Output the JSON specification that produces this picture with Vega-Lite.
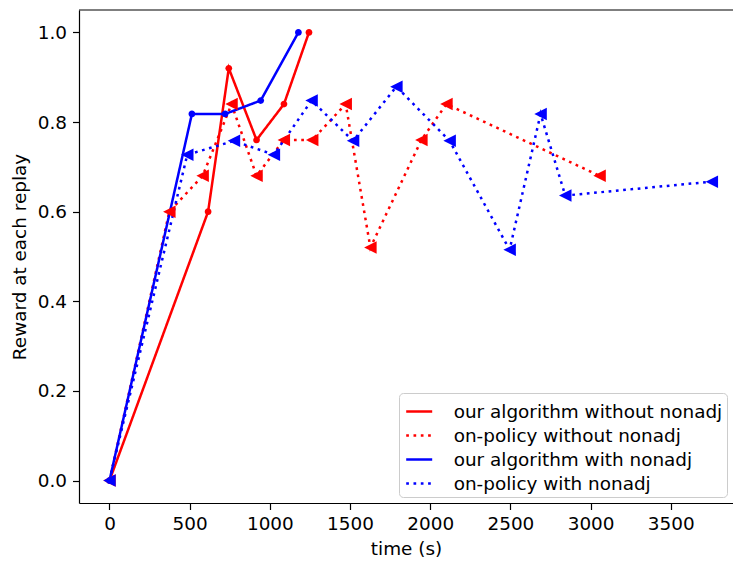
{
  "$schema": "https://vega.github.io/schema/vega-lite/v6.json",
  "width": 654,
  "height": 493,
  "autosize": {"type": "none"},
  "padding": {"left": 79, "top": 10, "right": 0, "bottom": 60},
  "background": "white",
  "config": {
    "view": {"stroke": null},
    "font": "DejaVu Sans",
    "axis": {
      "grid": false, "domain": true, "domainColor": "#000000", "domainWidth": 1.2,
      "tickColor": "#000000", "tickWidth": 1.2, "tickSize": 6.5,
      "labelFont": "DejaVu Sans", "labelFontSize": 18.4, "labelColor": "#000000",
      "titleFont": "DejaVu Sans", "titleFontSize": 18.4, "titleFontWeight": "normal", "titleColor": "#000000",
      "labelFlush": false, "labelOverlap": false
    }
  },
  "datasets": {
    "rows": [
      {"series": "our algorithm without nonadj", "t": 0, "reward": 0},
      {"series": "our algorithm without nonadj", "t": 615, "reward": 0.6},
      {"series": "our algorithm without nonadj", "t": 744, "reward": 0.92},
      {"series": "our algorithm without nonadj", "t": 917, "reward": 0.76},
      {"series": "our algorithm without nonadj", "t": 1088, "reward": 0.84},
      {"series": "our algorithm without nonadj", "t": 1244, "reward": 1.0},
      {"series": "on-policy without nonadj", "t": 0, "reward": 0},
      {"series": "on-policy without nonadj", "t": 373, "reward": 0.6},
      {"series": "on-policy without nonadj", "t": 581, "reward": 0.68},
      {"series": "on-policy without nonadj", "t": 761, "reward": 0.84},
      {"series": "on-policy without nonadj", "t": 917, "reward": 0.68},
      {"series": "on-policy without nonadj", "t": 1087, "reward": 0.76},
      {"series": "on-policy without nonadj", "t": 1264, "reward": 0.76},
      {"series": "on-policy without nonadj", "t": 1473, "reward": 0.84},
      {"series": "on-policy without nonadj", "t": 1627, "reward": 0.52},
      {"series": "on-policy without nonadj", "t": 1945, "reward": 0.76},
      {"series": "on-policy without nonadj", "t": 2101, "reward": 0.84},
      {"series": "on-policy without nonadj", "t": 3056, "reward": 0.68},
      {"series": "our algorithm with nonadj", "t": 0, "reward": 0},
      {"series": "our algorithm with nonadj", "t": 514, "reward": 0.818},
      {"series": "our algorithm with nonadj", "t": 721, "reward": 0.818},
      {"series": "our algorithm with nonadj", "t": 943, "reward": 0.848},
      {"series": "our algorithm with nonadj", "t": 1178, "reward": 1.0},
      {"series": "on-policy with nonadj", "t": 0, "reward": 0},
      {"series": "on-policy with nonadj", "t": 485, "reward": 0.727},
      {"series": "on-policy with nonadj", "t": 776, "reward": 0.758},
      {"series": "on-policy with nonadj", "t": 1025, "reward": 0.727},
      {"series": "on-policy with nonadj", "t": 1260, "reward": 0.848},
      {"series": "on-policy with nonadj", "t": 1519, "reward": 0.758},
      {"series": "on-policy with nonadj", "t": 1789, "reward": 0.879},
      {"series": "on-policy with nonadj", "t": 2121, "reward": 0.758},
      {"series": "on-policy with nonadj", "t": 2495, "reward": 0.515},
      {"series": "on-policy with nonadj", "t": 2688, "reward": 0.818},
      {"series": "on-policy with nonadj", "t": 2842, "reward": 0.636},
      {"series": "on-policy with nonadj", "t": 3756, "reward": 0.667}
    ]
  },
  "layer": [
    {
      "data": {"name": "rows"},
      "mark": {"type": "line", "strokeWidth": 2.5, "clip": true},
      "encoding": {
        "x": {
          "field": "t", "type": "quantitative",
          "scale": {"domain": [-190, 3888], "nice": false, "zero": false},
          "axis": {"values": [0, 500, 1000, 1500, 2000, 2500, 3000, 3500], "format": "d", "title": "time (s)", "labelPadding": 5, "titlePadding": 7}
        },
        "y": {
          "field": "reward", "type": "quantitative",
          "scale": {"domain": [-0.05, 1.05], "nice": false, "zero": false},
          "axis": {"values": [0, 0.2, 0.4, 0.6, 0.8, 1.0], "format": ".1f", "title": "Reward at each replay", "labelPadding": 6, "titlePadding": 7.4}
        },
        "stroke": {
          "field": "series", "type": "nominal",
          "scale": {"domain": ["our algorithm without nonadj", "on-policy without nonadj", "our algorithm with nonadj", "on-policy with nonadj"], "range": ["#ff0000", "#ff0000", "#0000ff", "#0000ff"]},
          "legend": {
            "title": null,
            "orient": "bottom-right",
            "offset": 6,
            "direction": "vertical",
            "padding": 4,
            "fillColor": "rgba(255,255,255,0.8)",
            "strokeColor": "#cccccc",
            "cornerRadius": 4,
            "symbolType": "stroke",
            "symbolSize": 676,
            "symbolStrokeWidth": 2.5,
            "symbolOffset": 1.7,
            "labelOffset": 20,
            "rowPadding": -1.5,
            "labelFont": "DejaVu Sans",
            "labelFontSize": 18.4,
            "labelColor": "#000000",
            "labelLimit": 500
          }
        },
        "strokeDash": {
          "field": "series", "type": "nominal",
          "scale": {"domain": ["our algorithm without nonadj", "on-policy without nonadj", "our algorithm with nonadj", "on-policy with nonadj"], "range": [[1, 0], [2.7, 4.6], [1, 0], [2.7, 4.6]]}
        }
      }
    },
    {
      "data": {"name": "rows"},
      "mark": {"type": "point", "filled": true, "opacity": 1, "size": 156, "clip": true},
      "encoding": {
        "x": {"field": "t", "type": "quantitative"},
        "y": {"field": "reward", "type": "quantitative"},
        "fill": {
          "field": "series", "type": "nominal",
          "scale": {"domain": ["on-policy with nonadj", "our algorithm with nonadj", "on-policy without nonadj", "our algorithm without nonadj"], "range": ["#0000ff", "#0000ff", "#ff0000", "#ff0000"]},
          "legend": null
        },
        "shape": {
          "field": "series", "type": "nominal",
          "scale": {"domain": ["on-policy with nonadj", "our algorithm with nonadj", "on-policy without nonadj", "our algorithm without nonadj"], "range": ["M-1,0L1,-1L1,1Z", "M-0.54,0A0.54,0.54,0,1,0,0.54,0A0.54,0.54,0,1,0,-0.54,0Z", "M-1,0L1,-1L1,1Z", "M-0.54,0A0.54,0.54,0,1,0,0.54,0A0.54,0.54,0,1,0,-0.54,0Z"]},
          "legend": null
        }
      }
    },
    {
      "data": {"values": [{"edge": "top"}]},
      "mark": {"type": "rule", "color": "#000000", "strokeWidth": 1.2},
      "encoding": {
        "y": {"datum": 1.05, "type": "quantitative"}
      }
    }
  ]
}
